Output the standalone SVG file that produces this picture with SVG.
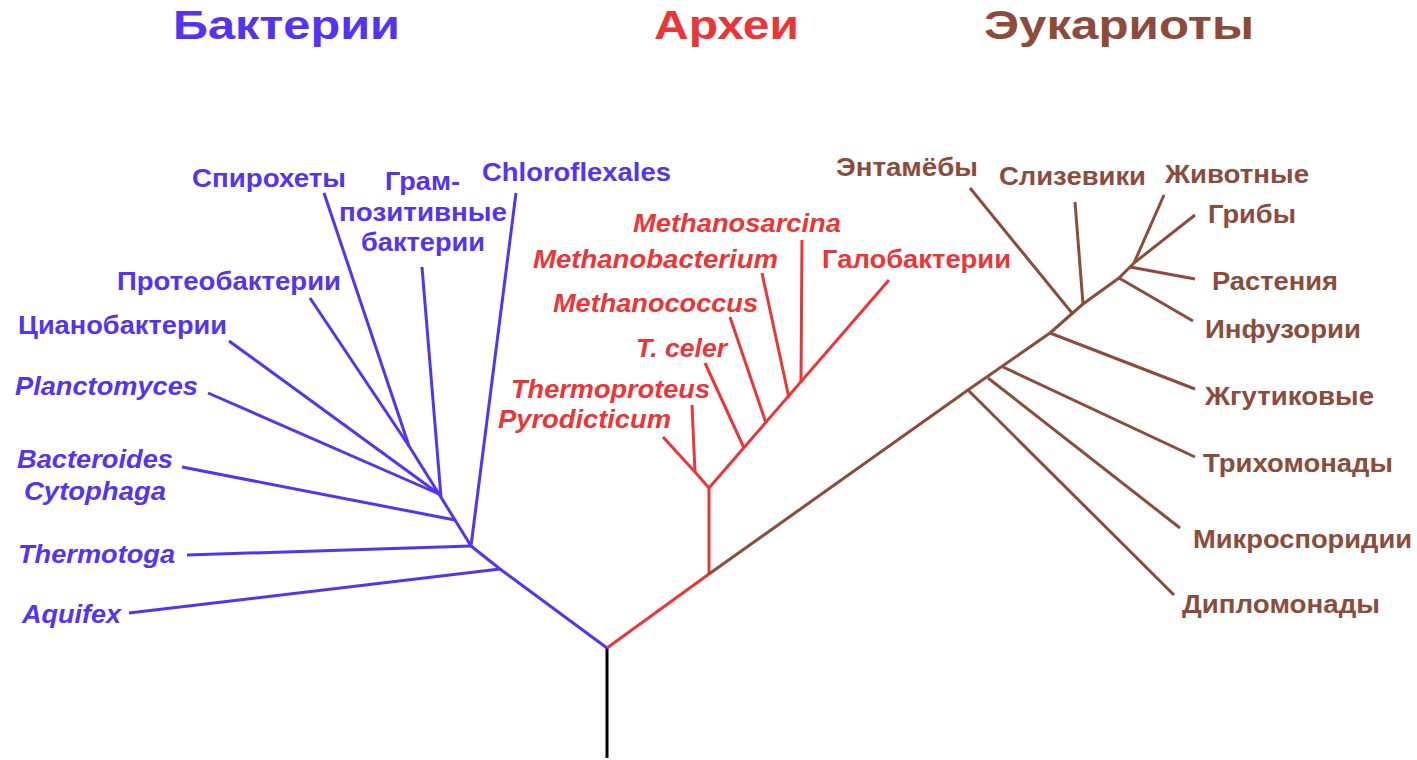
<svg xmlns="http://www.w3.org/2000/svg" width="1417" height="760" viewBox="0 0 1417 760">
<style>
text{font-family:"Liberation Sans",Arial,sans-serif;font-weight:bold;font-size:25px;}
.t{font-size:40px;}
.i{font-style:italic;}
.b{fill:#5533f2;}
.a{fill:#ea3636;}
.e{fill:#8c4b3b;}
line,polyline{stroke-width:3;fill:none;stroke-linecap:butt;stroke-linejoin:round;}
.lb{stroke:#5533f2;}
.la{stroke:#ea3636;}
.le{stroke:#8c4b3b;}
</style>
<rect width="1417" height="760" fill="#fff"/>
<g id="titles">
<text class="t b" x="173" y="39" textLength="227" lengthAdjust="spacingAndGlyphs">Бактерии</text>
<text class="t a" x="654" y="39" textLength="145" lengthAdjust="spacingAndGlyphs">Археи</text>
<text class="t e" x="984" y="39" textLength="270" lengthAdjust="spacingAndGlyphs">Эукариоты</text>
</g>
<g id="connectors">
<line x1="607" y1="648" x2="607" y2="758" stroke="#000" stroke-width="3"/>
<polyline class="lb" points="607,648 500,569 471,546 455,520 439,494 409,446 324,193"/>
<line class="lb" x1="500" y1="569" x2="129" y2="613"/>
<line class="lb" x1="471" y1="546" x2="187" y2="555"/>
<line class="lb" x1="471" y1="546" x2="516" y2="193"/>
<line class="lb" x1="455" y1="520" x2="182" y2="467"/>
<line class="lb" x1="439" y1="494" x2="208" y2="393"/>
<line class="lb" x1="439" y1="494" x2="229" y2="341"/>
<line class="lb" x1="441" y1="497" x2="422" y2="267"/>
<line class="lb" x1="409" y1="446" x2="310" y2="298"/>
<polyline class="la" points="607,648 709,574 709,488 889,280"/>
<polyline class="la" points="663,437 695,472 709,488"/>
<line class="la" x1="695" y1="472" x2="692" y2="405"/>
<line class="la" x1="744" y1="448" x2="705" y2="363"/>
<line class="la" x1="766" y1="423" x2="730" y2="317"/>
<line class="la" x1="789" y1="398" x2="762" y2="273"/>
<line class="la" x1="801" y1="383" x2="802" y2="240"/>
<polyline class="le" points="709,574 968,390 1050,333 1083,304 1119,278 1134,263"/>
<line class="le" x1="968" y1="390" x2="1174" y2="595"/>
<line class="le" x1="988" y1="378" x2="1180" y2="528"/>
<line class="le" x1="1003" y1="367" x2="1195" y2="457"/>
<line class="le" x1="1050" y1="333" x2="1195" y2="389"/>
<line class="le" x1="1072" y1="313" x2="970" y2="188"/>
<line class="le" x1="1083" y1="304" x2="1075" y2="202"/>
<line class="le" x1="1119" y1="278" x2="1193" y2="321"/>
<line class="le" x1="1130" y1="267" x2="1195" y2="279"/>
<line class="le" x1="1134" y1="263" x2="1195" y2="215"/>
<line class="le" x1="1134" y1="263" x2="1164" y2="195"/>
</g>
<g id="n-spirochetes"><text class="b" x="192" y="187" textLength="154" lengthAdjust="spacingAndGlyphs">Спирохеты</text></g>
<g id="n-grampositive">
<text class="b" x="385" y="190" textLength="75" lengthAdjust="spacingAndGlyphs">Грам-</text>
<text class="b" x="339" y="221" textLength="168" lengthAdjust="spacingAndGlyphs">позитивные</text>
<text class="b" x="361" y="251" textLength="124" lengthAdjust="spacingAndGlyphs">бактерии</text>
</g>
<g id="n-chloroflexales"><text class="b" x="482" y="181" textLength="189" lengthAdjust="spacingAndGlyphs">Chloroflexales</text></g>
<g id="n-proteobacteria"><text class="b" x="117" y="290" textLength="224" lengthAdjust="spacingAndGlyphs">Протеобактерии</text></g>
<g id="n-cyanobacteria"><text class="b" x="18" y="334" textLength="209" lengthAdjust="spacingAndGlyphs">Цианобактерии</text></g>
<g id="n-planctomyces"><text class="b i" x="15" y="395" textLength="183" lengthAdjust="spacingAndGlyphs">Planctomyces</text></g>
<g id="n-bacteroides">
<text class="b i" x="17" y="468" textLength="156" lengthAdjust="spacingAndGlyphs">Bacteroides</text>
<text class="b i" x="24" y="500" textLength="142" lengthAdjust="spacingAndGlyphs">Cytophaga</text>
</g>
<g id="n-thermotoga"><text class="b i" x="18" y="563" textLength="157" lengthAdjust="spacingAndGlyphs">Thermotoga</text></g>
<g id="n-aquifex"><text class="b i" x="22" y="623" textLength="99" lengthAdjust="spacingAndGlyphs">Aquifex</text></g>
<g id="n-methanosarcina"><text class="a i" x="633" y="232" textLength="208" lengthAdjust="spacingAndGlyphs">Methanosarcina</text></g>
<g id="n-methanobacterium"><text class="a i" x="533" y="268" textLength="245" lengthAdjust="spacingAndGlyphs">Methanobacterium</text></g>
<g id="n-methanococcus"><text class="a i" x="553" y="312" textLength="205" lengthAdjust="spacingAndGlyphs">Methanococcus</text></g>
<g id="n-tceler"><text class="a i" x="636" y="357" textLength="91" lengthAdjust="spacingAndGlyphs">T. celer</text></g>
<g id="n-thermoproteus"><text class="a i" x="511" y="398" textLength="199" lengthAdjust="spacingAndGlyphs">Thermoproteus</text></g>
<g id="n-pyrodicticum"><text class="a i" x="498" y="428" textLength="173" lengthAdjust="spacingAndGlyphs">Pyrodicticum</text></g>
<g id="n-halobacteria"><text class="a" x="822" y="268" textLength="189" lengthAdjust="spacingAndGlyphs">Галобактерии</text></g>
<g id="n-entamoeba"><text class="e" x="836" y="176" textLength="142" lengthAdjust="spacingAndGlyphs">Энтамёбы</text></g>
<g id="n-slime"><text class="e" x="999" y="185" textLength="147" lengthAdjust="spacingAndGlyphs">Слизевики</text></g>
<g id="n-animals"><text class="e" x="1165" y="183" textLength="144" lengthAdjust="spacingAndGlyphs">Животные</text></g>
<g id="n-fungi"><text class="e" x="1208" y="223" textLength="88" lengthAdjust="spacingAndGlyphs">Грибы</text></g>
<g id="n-plants"><text class="e" x="1212" y="290" textLength="126" lengthAdjust="spacingAndGlyphs">Растения</text></g>
<g id="n-ciliates"><text class="e" x="1205" y="338" textLength="156" lengthAdjust="spacingAndGlyphs">Инфузории</text></g>
<g id="n-flagellates"><text class="e" x="1205" y="405" textLength="169" lengthAdjust="spacingAndGlyphs">Жгутиковые</text></g>
<g id="n-trichomonads"><text class="e" x="1203" y="472" textLength="190" lengthAdjust="spacingAndGlyphs">Трихомонады</text></g>
<g id="n-microsporidia"><text class="e" x="1193" y="548" textLength="219" lengthAdjust="spacingAndGlyphs">Микроспоридии</text></g>
<g id="n-diplomonads"><text class="e" x="1182" y="613" textLength="198" lengthAdjust="spacingAndGlyphs">Дипломонады</text></g>
</svg>
